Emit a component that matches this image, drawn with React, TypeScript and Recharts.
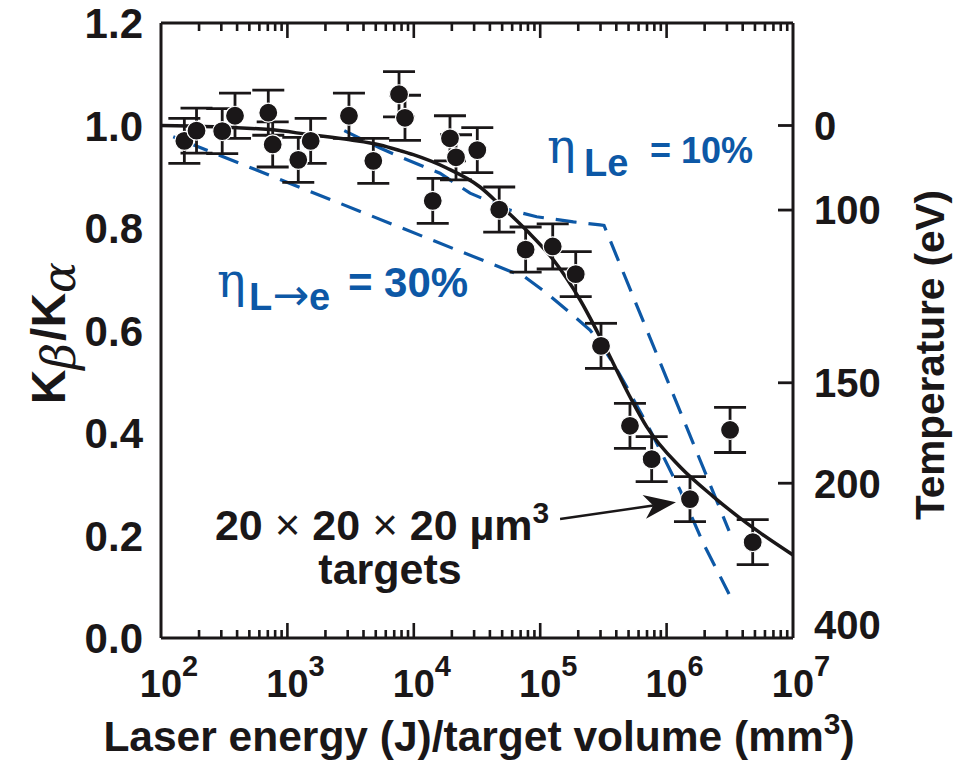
import React from 'react';
import {
  ComposedChart,
  Line,
  Scatter,
  XAxis,
  YAxis,
  ErrorBar,
  ReferenceDot,
  ReferenceLine,
} from 'recharts';

// ---------- data ----------
const energy = [
  153, 191, 305, 385, 706, 765, 1219, 1528, 3069, 4782, 7640, 8517, 14120, 19330,
  21570, 31790, 47400, 76700, 125600, 191000, 302700, 513000, 762000, 1531000,
  3177000, 4800000,
];
const ratio = [
  0.97, 0.99, 0.989, 1.019, 1.025, 0.963, 0.933, 0.97, 1.019, 0.931, 1.061, 1.015,
  0.853, 0.975, 0.938, 0.952, 0.836, 0.758, 0.764, 0.71, 0.57, 0.414, 0.349, 0.271,
  0.406, 0.187,
];
const ratioErr = [
  0.044, 0.044, 0.044, 0.044, 0.044, 0.044, 0.044, 0.044, 0.044, 0.044, 0.044, 0.044,
  0.044, 0.044, 0.044, 0.044, 0.044, 0.044, 0.044, 0.044, 0.044, 0.044, 0.044, 0.044,
  0.044, 0.044,
];

const fitEnergy = [
  100, 728, 1510, 3126, 5408, 7780, 9908, 18200, 33420, 48080, 78160, 127000, 206500,
  315500, 529700, 696600, 1276000, 2339000, 4305000, 10000000,
];
const fitRatio = [
  1.0, 0.992, 0.982, 0.972, 0.962, 0.951, 0.943, 0.917, 0.88, 0.845, 0.795, 0.738,
  0.66, 0.575, 0.464, 0.412, 0.334, 0.276, 0.224, 0.162,
];

const eta10Energy = [2818, 5408, 8260, 16110, 27860, 57680, 93760, 182800, 297200, 319900, 3119000];
const eta10Ratio = [0.99, 0.956, 0.936, 0.907, 0.868, 0.835, 0.822, 0.812, 0.806, 0.805, 0.209];

const eta30Energy = [125, 75860, 112500, 162200, 247700, 297200, 378400, 483100, 739600, 1276000, 1950000, 3119000];
const eta30Ratio = [0.978, 0.704, 0.673, 0.64, 0.601, 0.576, 0.536, 0.49, 0.406, 0.289, 0.185, 0.086];

const xMajorTicks = [100, 1000, 10000, 100000, 1000000, 10000000];
const xMinorMult = [2, 3, 4, 5, 6, 7, 8, 9];
const yTicks = [0, 0.2, 0.4, 0.6, 0.8, 1.0, 1.2];
const yTickLabels = ['0.0', '0.2', '0.4', '0.6', '0.8', '1.0', '1.2'];
const tempTickPos = [0.0, 0.302, 0.498, 0.835, 1.0];
const tempTickLabels = ['400', '200', '150', '100', '0'];

// annotation anchors (data coordinates)
const eta10Label = { x: 115300, y: 0.927 };
const eta30Label = { x: 282, y: 0.665 };
const targetLabel1 = { x: 267, y: 0.191 };
const targetLabel2 = { x: 6490, y: 0.105 };
const arrowFrom = { x: 143600, y: 0.232 };
const arrowTo = { x: 1186000, y: 0.265 };

// ---------- derived tables ----------
const points = energy.map((x, i) => ({ x, y: ratio[i], err: ratioErr[i] }));
const fit = fitEnergy.map((x, i) => ({ x, y: fitRatio[i] }));
const eta10 = eta10Energy.map((x, i) => ({ x, y: eta10Ratio[i] }));
const eta30 = eta30Energy.map((x, i) => ({ x, y: eta30Ratio[i] }));

const innerXTicks: number[] = [];
xMajorTicks.forEach((m, i) => {
  if (i > 0 && i < xMajorTicks.length - 1) innerXTicks.push(m);
  if (i < xMajorTicks.length - 1) xMinorMult.forEach((k) => innerXTicks.push(m * k));
});
const yMin = yTicks[0];
const yMax = yTicks[yTicks.length - 1];
const xMax = xMajorTicks[xMajorTicks.length - 1];
const bottomMarks = innerXTicks.map((x) => ({ x, y: yMin }));
const topMarks = innerXTicks.map((x) => ({ x, y: yMax }));
const rightMarks = tempTickPos.slice(1).map((y) => ({ x: xMax, y }));

const FONT = '"Liberation Sans", Arial, Helvetica, sans-serif';
const GREEK = '"DejaVu Serif", serif';
const INK = '#1a1718';
const BLUE = '#0d58a6';

const isMajor = (v: number) => {
  const l = Math.log10(v);
  return Math.abs(l - Math.round(l)) < 1e-6;
};

// ---------- tick marks (drawn as scatter shapes) ----------
const markX = (p: any) => {
  const v = p && p.payload ? p.payload.x : p.x;
  return isMajor(v) ? 15 : 8;
};
const UpMark = (p: any) => {
  const { cx, cy } = p;
  if (typeof cx !== 'number' || typeof cy !== 'number') return <g />;
  const len = markX(p);
  return <rect x={cx - 1.3} y={cy - len} width={2.6} height={len} fill={INK} />;
};
const DownMark = (p: any) => {
  const { cx, cy } = p;
  if (typeof cx !== 'number' || typeof cy !== 'number') return <g />;
  const len = markX(p);
  return <rect x={cx - 1.3} y={cy} width={2.6} height={len} fill={INK} />;
};
const LeftMark = (p: any) => {
  const { cx, cy } = p;
  if (typeof cx !== 'number' || typeof cy !== 'number') return <g />;
  return <rect x={cx - 15} y={cy - 1.4} width={15} height={2.8} fill={INK} />;
};

// ---------- tick labels ----------
const BottomTick = (props: any) => {
  const { x, y, payload } = props;
  const exp = Math.round(Math.log10(payload.value));
  return (
    <g fontFamily={FONT} fontWeight="bold" fill={INK}>
      <text x={x} y={y + 59} textAnchor="middle" fontSize={38} fill={INK} stroke="none">
        10
      </text>
      <text x={x + 21} y={y + 38} textAnchor="start" fontSize={29} fill={INK} stroke="none">
        {exp}
      </text>
    </g>
  );
};

const LeftTick = (props: any) => {
  const { x, y, index } = props;
  return (
    <text
      x={x - 18}
      y={y}
      dy="0.36em"
      textAnchor="end"
      fontFamily={FONT}
      fontWeight="bold"
      fontSize={42}
      fill={INK}
      stroke="none"
    >
      {yTickLabels[index]}
    </text>
  );
};

const RightTick = (props: any) => {
  const { x, y, index } = props;
  const lbl = tempTickLabels[index];
  const isBottom = lbl === '400';
  return (
    <text
      x={x + 21}
      y={isBottom ? y - 13 : y}
      dy="0.36em"
      textAnchor="start"
      fontFamily={FONT}
      fontWeight="bold"
      fontSize={40}
      fill={INK}
      stroke="none"
    >
      {lbl}
    </text>
  );
};

// ---------- axis titles ----------
const XTitle = (props: any) => {
  const vb = props.viewBox || { x: 161, y: 638, width: 632, height: 60 };
  const cx = vb.x + vb.width / 2;
  return (
    <text
      x={cx + 2}
      y={vb.y + 113}
      textAnchor="middle"
      fontFamily={FONT}
      fontWeight="bold"
      fontSize={42.5}
      fill={INK}
    >
      Laser energy (J)/target volume (mm
      <tspan dy={-17} fontSize={30}>
        3
      </tspan>
      <tspan dy={17}>)</tspan>
    </text>
  );
};

const YTitle = () => (
  <text
    transform={`translate(${65},${333}) rotate(-90)`}
    textAnchor="middle"
    fontFamily={FONT}
    fontWeight="bold"
    fontSize={48}
    fill={INK}
  >
    K
    <tspan dy={10} fontSize={46} fontStyle="italic" fontWeight="normal" fontFamily={GREEK}>
      β
    </tspan>
    <tspan dy={-10} dx={2}>/K</tspan>
    <tspan dy={10} fontSize={46} fontStyle="italic" fontWeight="normal" fontFamily={GREEK}>
      α
    </tspan>
  </text>
);

const RTitle = () => (
  <text
    transform={`translate(${944},${355}) rotate(-90)`}
    textAnchor="middle"
    fontFamily={FONT}
    fontWeight="bold"
    fontSize={40.5}
    fill={INK}
  >
    Temperature (eV)
  </text>
);

// ---------- marks & annotations ----------
const Dot = (props: any) => {
  const { cx, cy } = props;
  return <circle cx={cx} cy={cy} r={9.5} fill={INK} stroke="#ffffff" strokeWidth={1.2} />;
};

const EtaLabel = (
  sub: React.ReactNode,
  subDx: number,
  rest: string,
  restDx: number,
  restSize: number
) => (p: any) => (
  <g fill={BLUE} stroke="none">
    <text x={p.cx - 1} y={p.cy} fontFamily={GREEK} fontSize={48}>
      η
    </text>
    <text x={p.cx + subDx} y={p.cy + 13} fontFamily={FONT} fontWeight="bold" fontSize={38}>
      {sub}
    </text>
    <text x={p.cx + restDx} y={p.cy} fontFamily={FONT} fontWeight="bold" fontSize={restSize}>
      {rest}
    </text>
  </g>
);

const BlackText = (content: React.ReactNode, anchor: string) => (p: any) => (
  <text
    x={p.cx}
    y={p.cy}
    textAnchor={anchor}
    fontFamily={FONT}
    fontWeight="bold"
    fill={INK}
    stroke="none"
    fontSize={43}
  >
    {content}
  </text>
);

const Arrow = (p: any) => {
  const { x1, y1, x2, y2 } = p;
  if ([x1, y1, x2, y2].some((v) => typeof v !== 'number' || isNaN(v))) return null;
  const ang = Math.atan2(y2 - y1, x2 - x1);
  const L = 32;
  const W = 12;
  const ux = Math.cos(ang);
  const uy = Math.sin(ang);
  const px = -uy;
  const py = ux;
  const bx = x2 - ux * L;
  const by = y2 - uy * L;
  const nx = x2 - ux * (L - 9);
  const ny = y2 - uy * (L - 9);
  const head = `M${x2},${y2} L${bx + px * W},${by + py * W} L${nx},${ny} L${bx - px * W},${by - py * W} Z`;
  return (
    <g>
      <line x1={x1} y1={y1} x2={nx} y2={ny} stroke={INK} strokeWidth={2.5} />
      <path d={head} fill={INK} />
    </g>
  );
};

const TIMES = (
  <tspan fontWeight="normal" fontSize={44}>
    ×
  </tspan>
);

export default function App() {
  return (
    <div style={{ position: 'absolute', left: 0, top: 0, width: 957, height: 762, background: '#fff' }}>
      <ComposedChart
        width={957}
        height={762}
        margin={{ top: 22, right: 64, bottom: 64, left: 61 }}
        style={{ fontFamily: FONT }}
      >
        <XAxis
          xAxisId="bottom"
          dataKey="x"
          type="number"
          scale="log"
          domain={[100, 10000000]}
          ticks={xMajorTicks}
          interval={0}
          tickSize={0}
          tickMargin={0}
          tickLine={false}
          tick={<BottomTick />}
          axisLine={{ stroke: INK, strokeWidth: 3 }}
          height={60}
          label={(p: any) => <XTitle {...p} />}
        />
        <XAxis
          xAxisId="top"
          orientation="top"
          dataKey="x"
          type="number"
          scale="log"
          domain={[100, 10000000]}
          ticks={xMajorTicks}
          tick={false}
          tickLine={false}
          axisLine={{ stroke: INK, strokeWidth: 3 }}
          height={1}
        />
        <YAxis
          yAxisId="left"
          type="number"
          domain={[0, 1.2]}
          ticks={yTicks}
          interval={0}
          tickSize={0}
          tickMargin={0}
          tickLine={false}
          tick={<LeftTick />}
          axisLine={{ stroke: INK, strokeWidth: 3 }}
          width={100}
          label={() => <YTitle />}
        />
        <YAxis
          yAxisId="right"
          orientation="right"
          type="number"
          domain={[0, 1.2]}
          ticks={tempTickPos}
          interval={0}
          tickSize={0}
          tickMargin={0}
          tickLine={false}
          tick={<RightTick />}
          axisLine={{ stroke: INK, strokeWidth: 3 }}
          width={100}
          label={() => <RTitle />}
        />

        <Scatter xAxisId="bottom" yAxisId="left" data={bottomMarks} dataKey="y" shape={UpMark} isAnimationActive={false} />
        <Scatter xAxisId="top" yAxisId="left" data={topMarks} dataKey="y" shape={DownMark} isAnimationActive={false} />
        <Scatter xAxisId="bottom" yAxisId="right" data={rightMarks} dataKey="y" shape={LeftMark} isAnimationActive={false} />

        <Line
          xAxisId="top"
          yAxisId="left"
          data={eta30}
          dataKey="y"
          type="linear"
          stroke={BLUE}
          strokeWidth={3.2}
          strokeDasharray="21 12"
          strokeDashoffset={17}
          dot={false}
          activeDot={false}
          isAnimationActive={false}
        />
        <Line
          xAxisId="bottom"
          yAxisId="left"
          data={eta10}
          dataKey="y"
          type="linear"
          stroke={BLUE}
          strokeWidth={3.2}
          strokeDasharray="21 12"
          dot={false}
          activeDot={false}
          isAnimationActive={false}
        />
        <Line
          xAxisId="bottom"
          yAxisId="right"
          data={fit}
          dataKey="y"
          type="monotone"
          stroke={INK}
          strokeWidth={3.5}
          dot={false}
          activeDot={false}
          isAnimationActive={false}
        />
        <Scatter
          xAxisId="bottom"
          yAxisId="left"
          data={points}
          dataKey="y"
          shape={<Dot />}
          isAnimationActive={false}
        >
          <ErrorBar dataKey="err" direction="y" width={16} strokeWidth={2.8} stroke={INK} />
        </Scatter>

        <ReferenceLine
          xAxisId="bottom"
          yAxisId="left"
          segment={[arrowFrom, arrowTo]}
          ifOverflow="visible"
          shape={Arrow}
        />
        <ReferenceDot
          xAxisId="bottom"
          yAxisId="left"
          x={eta10Label.x}
          y={eta10Label.y}
          r={0}
          ifOverflow="visible"
          shape={EtaLabel('Le', 36, '= 10%', 102, 36)}
        />
        <ReferenceDot
          xAxisId="bottom"
          yAxisId="left"
          x={eta30Label.x}
          y={eta30Label.y}
          r={0}
          ifOverflow="visible"
          shape={EtaLabel(
            <>
              L<tspan fontFamily='"DejaVu Sans", sans-serif' fontWeight="normal" fontSize={44}>→</tspan>e
            </>,
            31,
            '= 30%',
            130,
            42
          )}
        />
        <ReferenceDot
          xAxisId="bottom"
          yAxisId="left"
          x={targetLabel1.x}
          y={targetLabel1.y}
          r={0}
          ifOverflow="visible"
          shape={BlackText(
            <>
              20 {TIMES} 20 {TIMES}  20 µm
              <tspan dy={-17} fontSize={30}>
                3
              </tspan>
            </>,
            'start'
          )}
        />
        <ReferenceDot
          xAxisId="bottom"
          yAxisId="left"
          x={targetLabel2.x}
          y={targetLabel2.y}
          r={0}
          ifOverflow="visible"
          shape={BlackText('targets', 'middle')}
        />
      </ComposedChart>
    </div>
  );
}
